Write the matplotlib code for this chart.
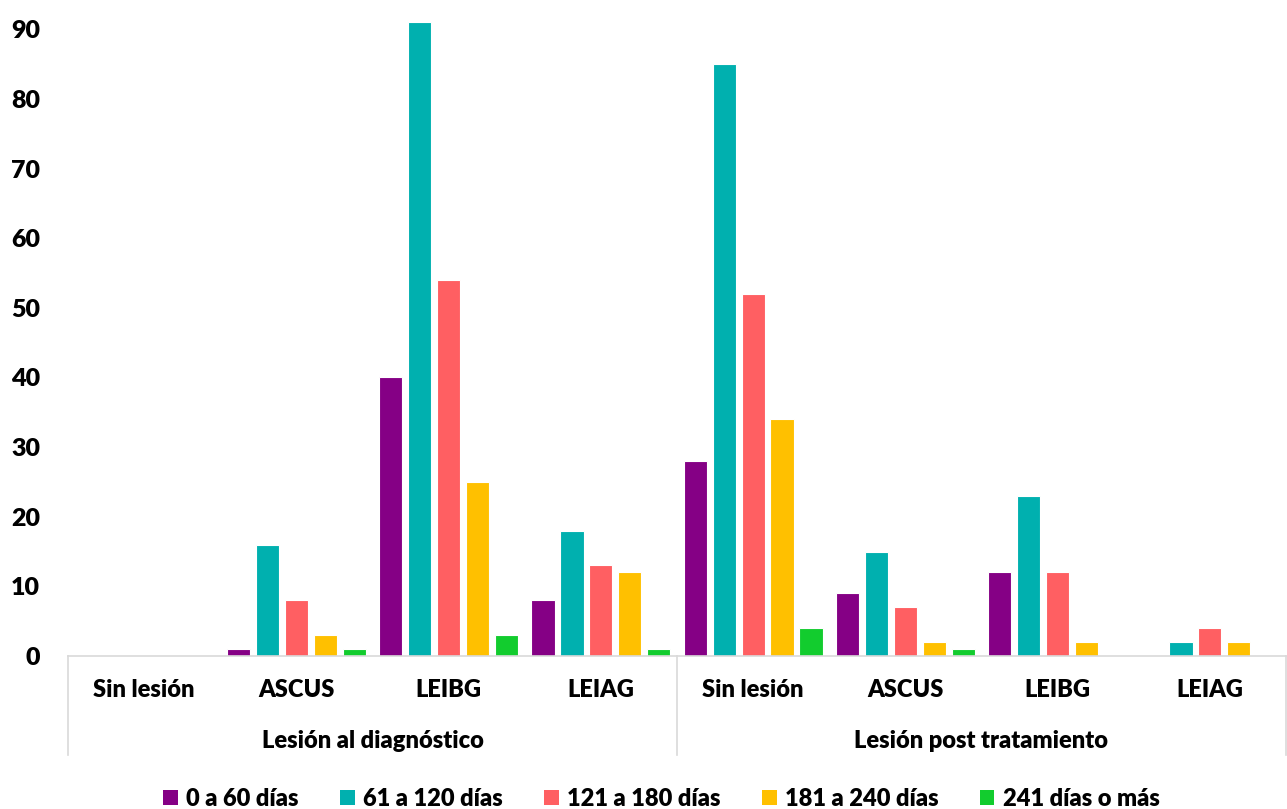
import matplotlib.pyplot as plt
import matplotlib.transforms as mtransforms
from matplotlib.patches import Patch
import numpy as np

plt.rcParams['font.family'] = ['Lato', 'DejaVu Sans']
plt.rcParams['font.weight'] = 'heavy'

grupos = ["Lesión al diagnóstico", "Lesión post tratamiento"]
lesiones = ["Sin lesión", "ASCUS", "LEIBG", "LEIAG"]
categorias = lesiones + lesiones

series = ["0 a 60 días", "61 a 120 días", "121 a 180 días", "181 a 240 días", "241 días o más"]
colores = ["#850085", "#00B0AF", "#FF5F62", "#FFC000", "#12CC2E"]

d0_60 = [0, 1, 40, 8, 28, 9, 12, 0]
d61_120 = [0, 16, 91, 18, 85, 15, 23, 2]
d121_180 = [0, 8, 54, 13, 52, 7, 12, 4]
d181_240 = [0, 3, 25, 12, 34, 2, 2, 2]
d241_mas = [0, 1, 3, 1, 4, 1, 0, 0]
valores = [d0_60, d61_120, d121_180, d181_240, d241_mas]

fig = plt.figure(figsize=(12.87, 8.09), dpi=100)
W, H = 1287, 809
ax = fig.add_axes([68 / W, 1 - 656 / H, (1286 - 68) / W, 656 / H])

x = np.arange(len(categorias))
ancho = 0.152
paso = 0.19
for i, (vals, col) in enumerate(zip(valores, colores)):
    pos = x + (i - 2) * paso
    ax.bar(pos, vals, width=ancho, color=col, edgecolor='white', linewidth=0.8, zorder=2)

ax.set_xlim(-0.5, len(categorias) - 0.5)
ax.set_ylim(0, 94.2)
ax.set_yticks(range(0, 91, 10))
ax.tick_params(axis='y', length=0, pad=20, labelsize=18)
for t in ax.get_yticklabels():
    t.set_fontweight('heavy')
ax.set_xticks([])
for s in ['top', 'right', 'left']:
    ax.spines[s].set_visible(False)
ax.spines['bottom'].set_color('#d9d9d9')
ax.spines['bottom'].set_linewidth(1.2)

# etiquetas de dos niveles bajo el eje
trans = mtransforms.blended_transform_factory(ax.transData, fig.transFigure)
y_cat = 1 - 690 / H
y_grp = 1 - 741 / H
for xi, nombre in zip(x, categorias):
    ax.text(xi, y_cat, nombre, transform=trans, ha='center', va='center',
            fontsize=17, fontweight='heavy')
for g, nombre in enumerate(grupos):
    centro = g * 4 + 1.5
    ax.text(centro, y_grp, nombre, transform=trans, ha='center', va='center',
            fontsize=17, fontweight='heavy')

y_top = 1 - 656 / H
y_bot = 1 - 755 / H
for xs in [-0.5, 3.5, 7.5]:
    ax.plot([xs, xs], [y_top, y_bot], transform=trans, color='#d9d9d9',
            linewidth=1.2, clip_on=False)

handles = [Patch(facecolor=c, edgecolor='none') for c in colores]
fig.legend(handles, series, loc='lower center', bbox_to_anchor=(0.514, -0.027),
           ncol=5, frameon=False, handlelength=0.62, handleheight=0.62,
           handletextpad=0.35, columnspacing=1.75,
           prop={'size': 17, 'weight': 'heavy'})

fig.savefig('out.png', dpi=100)
